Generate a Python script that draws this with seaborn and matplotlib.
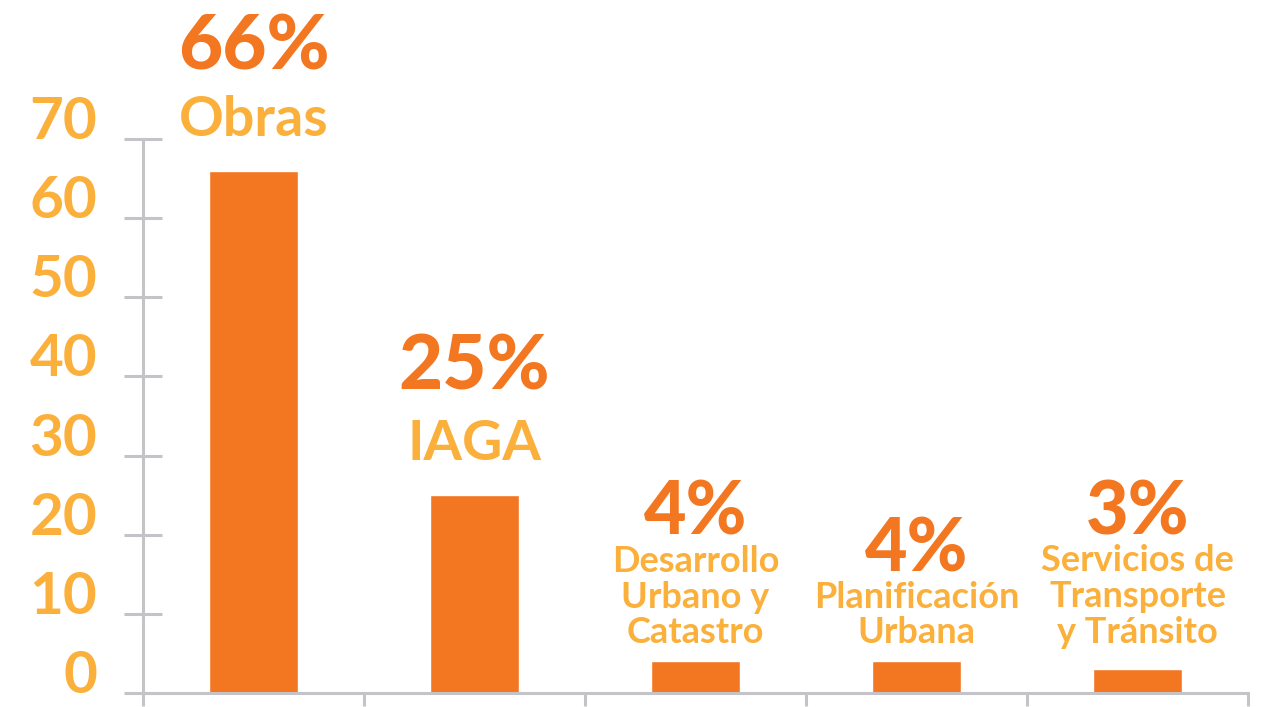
import matplotlib
matplotlib.use("Agg")
import matplotlib.pyplot as plt
import seaborn as sns

# ===== Data =====
categories = ["Obras", "IAGA", "Desarrollo\nUrbano y\nCatastro",
              "Planificación\nUrbana", "Servicios de\nTransporte\ny Tránsito"]
values = [66, 25, 4, 4, 3]
pct_labels = ["66%", "25%", "4%", "4%", "3%"]
y_ticks = [0, 10, 20, 30, 40, 50, 60, 70]

# ===== Style =====
ORANGE = "#F37721"
YELLOW = "#FBB03B"
GRAY = "#C4C4C8"

sns.set_theme(style="white")
plt.rcParams["font.family"] = ["Lato", "DejaVu Sans"]

# label layout (offsets in points above bar top): name, pct, sizes
name_off = [25, 25, 13, 13, 19]
pct_off = [73, 76, 91, 65, 97]
name_size = [40, 40, 26, 26, 26]
pct_size = [55, 55, 53, 53, 53]

fig = plt.figure(figsize=(12.61, 7.07), dpi=100)
ax = fig.add_axes([143 / 1261, 1 - 693 / 707, (1248 - 143) / 1261, (693 - 139) / 707])

sns.barplot(x=list(range(len(values))), y=values, color=ORANGE,
            saturation=1, width=0.4, ax=ax)

ax.set_ylim(0, 70)
ax.set_xlim(-0.5, len(values) - 0.5)
ax.set_yticks(y_ticks)
ax.set_yticklabels([str(t) for t in y_ticks], fontsize=42, fontweight="bold",
                   color=YELLOW, va="baseline")
ax.tick_params(axis="y", direction="inout", length=28, width=2.2,
               color=GRAY, pad=19, left=True)

ax.set_xticks([i - 0.5 for i in range(len(values) + 1)])
ax.set_xticklabels([])
ax.tick_params(axis="x", direction="out", length=9, width=2.2,
               color=GRAY, bottom=True)
ax.set_xlabel("")
ax.set_ylabel("")

sns.despine(ax=ax, top=True, right=True)
for side in ["left", "bottom"]:
    ax.spines[side].set_color(GRAY)
    ax.spines[side].set_linewidth(2.2)

for i, v in enumerate(values):
    ax.annotate(categories[i], xy=(i, v), xytext=(0, name_off[i]),
                textcoords="offset points", ha="center", va="baseline",
                fontsize=name_size[i], fontweight="bold", color=YELLOW,
                linespacing=1.1, multialignment="center", annotation_clip=False)
    ax.annotate(pct_labels[i], xy=(i, v), xytext=(0, pct_off[i]),
                textcoords="offset points", ha="center", va="baseline",
                fontsize=pct_size[i], fontweight="black", color=ORANGE,
                annotation_clip=False)

fig.savefig("out.png", dpi=100)
